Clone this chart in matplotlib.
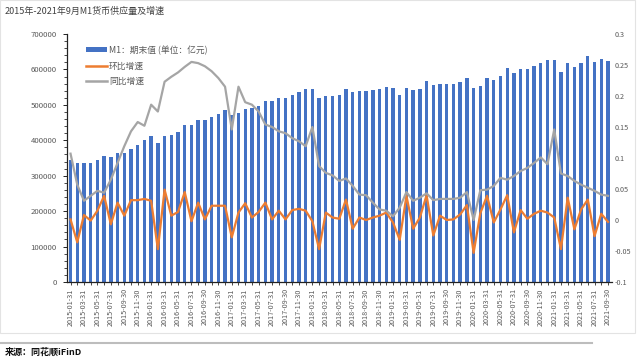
import pandas as pd
import matplotlib
matplotlib.use("Agg")
import matplotlib.pyplot as plt
from matplotlib.patches import Patch, Rectangle
from matplotlib.lines import Line2D
from matplotlib.ticker import MultipleLocator

plt.rcParams['font.family'] = ['Noto Sans CJK SC', 'DejaVu Sans']
plt.rcParams['axes.unicode_minus'] = False

# === Data: month-end M1 (亿元), MoM and YoY growth, 2015-01 .. 2021-09 ===
dates = pd.date_range('2015-01-31', periods=81, freq='ME').strftime('%Y-%m-%d').tolist()

m1 = [
    345700, 334500, 336500, 336500, 343800, 357000, 354000, 364600, 364600, 376700, 388000, 401000,
    413000, 392700, 411000, 414000, 423600, 443000, 442000, 456000, 456000, 465700, 475000, 486500,
    472000, 477000, 489000, 491000, 497500, 511600, 511600, 519000, 519000, 526500, 537000, 544500,
    544500, 519000, 525000, 525600, 527600, 544500, 537000, 539700, 539700, 540600, 544500, 551800,
    547000, 527600, 547000, 542500, 545300, 567800, 554700, 558500, 558500, 559400, 564000, 577000,
    547000, 553800, 575500, 570600, 582000, 605000, 591000, 601500, 601500, 610000, 619000, 627000,
    627000, 594000, 617500, 608000, 617500, 638000, 622000, 629000, 625000,
]

mom = [
    0.001, -0.036, 0.008, -0.001, 0.015, 0.039, -0.007, 0.028, 0.007, 0.032, 0.032, 0.034,
    0.031, -0.047, 0.049, 0.007, 0.013, 0.045, -0.002, 0.028, 0.001, 0.023, 0.023, 0.023,
    -0.028, 0.012, 0.027, 0.004, 0.013, 0.028, 0.001, 0.015, 0.001, 0.016, 0.018, 0.015,
    -0.002, -0.047, 0.012, 0.004, 0.002, 0.033, -0.014, 0.004, 0.000, 0.004, 0.007, 0.012,
    -0.004, -0.032, 0.039, -0.014, 0.004, 0.040, -0.025, 0.007, 0.000, 0.001, 0.009, 0.024,
    -0.053, 0.011, 0.039, -0.004, 0.017, 0.040, -0.020, 0.016, 0.002, 0.010, 0.015, 0.012,
    0.004, -0.047, 0.036, -0.015, 0.017, 0.033, -0.026, 0.010, -0.003,
]

yoy = [
    0.107, 0.057, 0.031, 0.039, 0.047, 0.044, 0.065, 0.092, 0.119, 0.143, 0.158, 0.152,
    0.186, 0.175, 0.223, 0.231, 0.238, 0.247, 0.255, 0.253, 0.248, 0.240, 0.229, 0.215,
    0.146, 0.215, 0.190, 0.186, 0.175, 0.154, 0.150, 0.143, 0.140, 0.132, 0.127, 0.119,
    0.150, 0.087, 0.076, 0.072, 0.063, 0.067, 0.055, 0.041, 0.040, 0.028, 0.017, 0.015,
    0.006, 0.020, 0.045, 0.031, 0.036, 0.043, 0.032, 0.034, 0.034, 0.034, 0.036, 0.045,
    0.000, 0.048, 0.049, 0.055, 0.068, 0.065, 0.071, 0.079, 0.084, 0.092, 0.101, 0.090,
    0.146, 0.075, 0.071, 0.063, 0.057, 0.052, 0.047, 0.041, 0.039,
]

title = '2015年-2021年9月M1货币供应量及增速'
source = '来源：同花顺iFinD'

BLUE = '#4472C4'
ORANGE = '#ED7D31'
GRAY = '#A5A5A5'
TXT = '#595959'

fig = plt.figure(figsize=(6.4, 3.6), dpi=100)

# chart frame + separator like the Excel export
fig.patches.append(Rectangle((0.0, 360 - 333), 635, 333, transform=None,
                             fill=False, ec='#E3E3E3', lw=0.8))
fig.lines.append(Line2D([0, 592 / 640], [1 - 343 / 360] * 2, transform=fig.transFigure,
                        color='#BDBDBD', lw=1.5))

ax = fig.add_axes([66.5 / 640, 78 / 360, (612 - 66.5) / 640, (282 - 34) / 360])
x = range(len(m1))
ax.bar(x, m1, width=0.5, color=BLUE, zorder=2)
ax.set_xlim(-0.6, len(m1) - 0.4)
ax.set_ylim(0, 700000)
ax.yaxis.set_major_locator(MultipleLocator(100000))
ax.yaxis.set_minor_locator(MultipleLocator(20000))
ax.set_xticks(list(x)[::2])
ax.set_xticklabels(dates[::2], rotation=90, fontsize=5.2, color=TXT)
ax.set_xticks(list(x), minor=True)
ax.tick_params(axis='y', labelsize=5.6, labelcolor=TXT, length=3, width=0.6, pad=4)
ax.tick_params(axis='y', which='minor', length=2, width=0.5)
ax.tick_params(axis='x', which='both', length=2.5, width=0.5, pad=2)
for s in ['top', 'right']:
    ax.spines[s].set_visible(False)
ax.spines['left'].set_color('#222222')
ax.spines['bottom'].set_color('#222222')
ax.spines['left'].set_linewidth(0.9)
ax.spines['bottom'].set_linewidth(0.9)

ax2 = ax.twinx()
ax2.plot(x, mom, color=ORANGE, lw=1.6, zorder=3)
ax2.plot(x, yoy, color=GRAY, lw=1.6, zorder=3)
ax2.set_ylim(-0.1, 0.3)
ax2.set_yticks([-0.1, -0.05, 0, 0.05, 0.1, 0.15, 0.2, 0.25, 0.3])
ax2.set_yticklabels(['-0.1', '-0.05', '0', '0.05', '0.1', '0.15', '0.2', '0.25', '0.3'])
ax2.tick_params(axis='y', labelsize=5.2, labelcolor=TXT, length=0, pad=2)
for s in ['top', 'right', 'left', 'bottom']:
    ax2.spines[s].set_visible(False)

handles = [
    Patch(facecolor=BLUE, edgecolor='none'),
    Line2D([], [], color=ORANGE, lw=1.8),
    Line2D([], [], color=GRAY, lw=1.8),
]
labels = ['M1：期末值 (单位：亿元)', '环比增速', '同比增速']
ax2.legend(handles, labels, loc='upper left', bbox_to_anchor=(0.022, 0.985),
           frameon=False, fontsize=6.3, labelcolor=TXT, handlelength=2.4,
           handleheight=0.5, handletextpad=0.2, labelspacing=0.75)

fig.text(5 / 640, 1 - 11 / 360, title, fontsize=6.5, color='#404040', va='center', ha='left')
fig.text(5 / 640, 1 - 352 / 360, source, fontsize=6.5, color='#111111', va='center',
         ha='left', fontweight='bold')

fig.savefig('out.png', dpi=100)
